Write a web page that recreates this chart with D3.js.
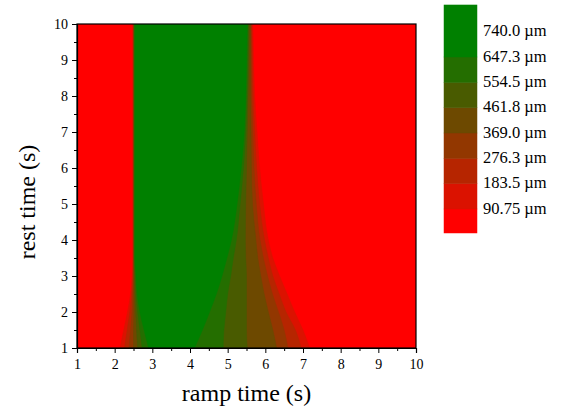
<!DOCTYPE html>
<html>
<head>
<meta charset="utf-8">
<script src="https://cdn.jsdelivr.net/npm/d3@7"></script>
<style>
  body { margin: 0; background: #fff; }
  svg { display: block; font-family: 'Liberation Serif', 'Times New Roman', serif; }
</style>
</head>
<body>
<svg id="chart" width="564" height="413"></svg>
<script>
// contour levels (um) and the rest times at which the band edges were read
const levels = [90.75, 183.5, 276.3, 369.0, 461.8, 554.5, 647.3];
const legendLabels = ['90.75 \u00b5m', '183.5 \u00b5m', '276.3 \u00b5m', '369.0 \u00b5m',
  '461.8 \u00b5m', '554.5 \u00b5m', '647.3 \u00b5m', '740.0 \u00b5m'];
const legendValues = [90.75, 183.5, 276.3, 369.0, 461.8, 554.5, 647.3, 740.0];
const restTimes = [1, 1.5, 2, 2.5, 3, 3.5, 4, 5, 6, 7, 8, 9, 10];

// ramp time where each level is crossed on the rising (left) side, per rest time row
const leftEdge = [
  [2.14, 2.26, 2.38, 2.50, 2.61, 2.73, 2.90],
  [2.24, 2.33, 2.42, 2.50, 2.58, 2.67, 2.78],
  [2.34, 2.40, 2.46, 2.51, 2.56, 2.61, 2.67],
  [2.42, 2.45, 2.48, 2.51, 2.54, 2.57, 2.60],
  [2.46, 2.48, 2.50, 2.51, 2.53, 2.55, 2.57],
  [2.48, 2.49, 2.50, 2.51, 2.52, 2.53, 2.54],
  [2.48, 2.49, 2.50, 2.51, 2.52, 2.53, 2.54],
  [2.48, 2.49, 2.50, 2.51, 2.52, 2.53, 2.54],
  [2.48, 2.49, 2.50, 2.51, 2.52, 2.53, 2.54],
  [2.48, 2.49, 2.50, 2.51, 2.52, 2.53, 2.54],
  [2.48, 2.49, 2.50, 2.51, 2.52, 2.53, 2.54],
  [2.48, 2.49, 2.50, 2.51, 2.52, 2.53, 2.54],
  [2.48, 2.49, 2.50, 2.51, 2.52, 2.53, 2.54]
];

// ramp time where each level is crossed on the falling (right) side
const rightEdge = [
  [7.18, 6.95, 6.60, 6.30, 5.52, 4.88, 4.12],
  [7.00, 6.80, 6.50, 6.20, 5.50, 4.90, 4.33],
  [6.78, 6.55, 6.35, 6.08, 5.50, 4.95, 4.52],
  [6.58, 6.37, 6.19, 5.97, 5.50, 5.00, 4.70],
  [6.38, 6.20, 6.06, 5.88, 5.50, 5.08, 4.85],
  [6.20, 6.08, 5.95, 5.80, 5.48, 5.15, 4.98],
  [6.08, 5.98, 5.86, 5.75, 5.47, 5.23, 5.10],
  [5.95, 5.85, 5.76, 5.66, 5.48, 5.33, 5.25],
  [5.85, 5.77, 5.70, 5.63, 5.50, 5.42, 5.36],
  [5.78, 5.72, 5.67, 5.62, 5.52, 5.48, 5.44],
  [5.72, 5.68, 5.64, 5.60, 5.54, 5.51, 5.48],
  [5.69, 5.66, 5.63, 5.60, 5.56, 5.53, 5.50],
  [5.67, 5.64, 5.62, 5.60, 5.57, 5.54, 5.52]
];

const xTicks = [1, 2, 3, 4, 5, 6, 7, 8, 9, 10];
const yTicks = [1, 2, 3, 4, 5, 6, 7, 8, 9, 10];

const svg = d3.select('#chart');
const margin = { left: 77, right: 416, top: 24, bottom: 348 };

const x = d3.scaleLinear().domain([1, 10]).range([margin.left, margin.right]);
const y = d3.scaleLinear().domain([1, 10]).range([margin.bottom, margin.top]);

// band colours, red -> green
const bandColor = d3.range(8).map(function (i) {
  return d3.interpolateRgb('#ff0000', '#008000')(i / 7);
});

svg.append('clipPath').attr('id', 'plotClip')
  .append('rect')
  .attr('x', margin.left).attr('y', margin.top)
  .attr('width', margin.right - margin.left)
  .attr('height', margin.bottom - margin.top);

const field = svg.append('g').attr('clip-path', 'url(#plotClip)');

field.append('rect')
  .attr('x', margin.left).attr('y', margin.top)
  .attr('width', margin.right - margin.left)
  .attr('height', margin.bottom - margin.top)
  .attr('fill', bandColor[0]);

const area = d3.area()
  .curve(d3.curveMonotoneY)
  .y(function (d) { return y(d.rest); })
  .x0(function (d) { return x(d.left); })
  .x1(function (d) { return x(d.right); });

levels.forEach(function (lvl, k) {
  const pts = restTimes.map(function (r, i) {
    return { rest: r, left: leftEdge[i][k], right: rightEdge[i][k] };
  });
  field.append('path')
    .datum(pts)
    .attr('d', area)
    .attr('fill', bandColor[k + 1])
    .attr('stroke', bandColor[k + 1])
    .attr('stroke-width', 0.5);
});

// frame
svg.append('rect')
  .attr('x', margin.left).attr('y', margin.top)
  .attr('width', margin.right - margin.left)
  .attr('height', margin.bottom - margin.top)
  .attr('fill', 'none')
  .attr('stroke', '#000')
  .attr('stroke-width', 1.2);

// axes
const xAxis = svg.append('g')
  .attr('transform', 'translate(0,' + margin.bottom + ')')
  .call(d3.axisBottom(x).tickValues(xTicks).tickFormat(d3.format('d')).tickSize(5).tickPadding(6));

xAxis.selectAll('.tick').filter(function (d, i) { return i < xTicks.length - 1; })
  .append('line')
  .attr('x1', x(1.5) - x(1)).attr('x2', x(1.5) - x(1))
  .attr('y1', 0).attr('y2', 3)
  .attr('stroke', '#000');

const yAxis = svg.append('g')
  .attr('transform', 'translate(' + margin.left + ',0)')
  .call(d3.axisLeft(y).tickValues(yTicks).tickFormat(d3.format('d')).tickSize(5).tickPadding(4));

yAxis.selectAll('.tick').filter(function (d, i) { return i < yTicks.length - 1; })
  .append('line')
  .attr('y1', y(1.5) - y(1)).attr('y2', y(1.5) - y(1))
  .attr('x1', 0).attr('x2', -3)
  .attr('stroke', '#000');

svg.selectAll('.domain').attr('stroke', '#000').attr('stroke-width', 1.2);
svg.selectAll('.tick line').attr('stroke', '#000').attr('stroke-width', 1);
svg.selectAll('.tick text')
  .attr('font-family', "'Liberation Serif', 'Times New Roman', serif")
  .style('font-size', '14px')
  .attr('fill', '#000');

svg.append('text')
  .attr('x', (margin.left + margin.right) / 2)
  .attr('y', 401)
  .attr('text-anchor', 'middle')
  .style('font-size', '24px')
  .text('ramp time (s)');

svg.append('text')
  .attr('transform', 'translate(35,202) rotate(-90)')
  .attr('text-anchor', 'middle')
  .style('font-size', '24px')
  .text('rest time (s)');

// legend
const legendScale = d3.scaleLinear().domain([90.75, 647.3]).range([209, 57]);
const legendEdges = [2.9].concat(levels, [837.8]);

svg.append('g').selectAll('rect')
  .data(d3.range(8))
  .join('rect')
  .attr('x', 444)
  .attr('width', 33)
  .attr('y', function (i) { return legendScale(legendEdges[i + 1]); })
  .attr('height', function (i) { return legendScale(legendEdges[i]) - legendScale(legendEdges[i + 1]); })
  .attr('fill', function (i) { return bandColor[i]; })
  .attr('stroke', function (i) { return bandColor[i]; })
  .attr('stroke-width', 0.5);

svg.append('g').selectAll('text')
  .data(legendValues)
  .join('text')
  .attr('x', 483)
  .attr('y', function (d) { return legendScale(d) + 1; })
  .attr('dominant-baseline', 'middle')
  .style('font-size', '16.5px')
  .text(function (d, i) { return legendLabels[i]; });
</script>
</body>
</html>
